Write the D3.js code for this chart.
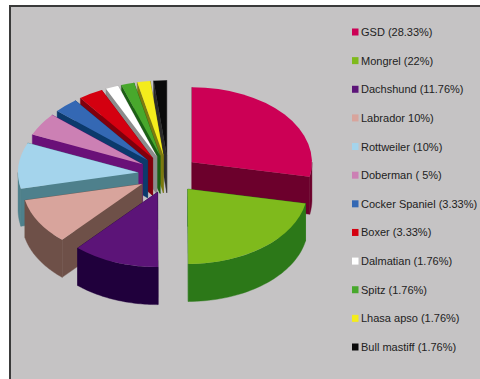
<!DOCTYPE html>
<html>
<head>
<meta charset="utf-8">
<script src="https://cdn.jsdelivr.net/npm/d3@7"></script>
<style>
  html, body { margin: 0; padding: 0; background: #fff; }
  svg { display: block; }
  text { font-family: "Liberation Sans", Arial, sans-serif; }
</style>
</head>
<body>
<svg id="chart" width="480" height="379"></svg>
<script>
// Dog breed shares
const breeds = ["GSD", "Mongrel", "Dachshund", "Labrador", "Rottweiler", "Doberman",
  "Cocker Spaniel", "Boxer", "Dalmatian", "Spitz", "Lhasa apso", "Bull mastiff"];
const shares = [28.33, 22, 11.76, 10, 10, 5, 3.33, 3.33, 1.76, 1.76, 1.76, 1.76];
const legendLabels = ["GSD (28.33%)", "Mongrel (22%)", "Dachshund (11.76%)", "Labrador 10%)",
  "Rottweiler (10%)", "Doberman ( 5%)", "Cocker Spaniel (3.33%)", "Boxer (3.33%)",
  "Dalmatian (1.76%)", "Spitz (1.76%)", "Lhasa apso (1.76%)", "Bull mastiff (1.76%)"];
const topColors = ["#cc0055", "#7fba1c", "#5c1478", "#d8a49c", "#a4d4ec", "#cc80b4",
  "#3468b4", "#d40010", "#ffffff", "#48a82c", "#f4ec1c", "#0a0a0a"];
const wallColors = ["#6c002c", "#2c7818", "#20003c", "#6e5048", "#4e808c", "#6a1078",
  "#0c3a6c", "#80000c", "#8c8c8c", "#1c6014", "#7c7a10", "#2a2a2a"];

const width = 480, height = 379;
const rx = 120, ry = 75, depth = 37.5, explode = 0.254;
const cx = 168.4, cy = 174.3;
const tilt = ry / rx;

const svg = d3.select("#chart");

// Panel and its frame
svg.append("rect").attr("x", 10).attr("y", 6).attr("width", 470).attr("height", 373)
  .attr("fill", "#c5c3c4");
svg.append("path").attr("d", "M10,379V6H480").attr("fill", "none")
  .attr("stroke", "#3a3a3a").attr("stroke-width", 2);

// Angles start at twelve o'clock and run clockwise, in breed order
const arcs = d3.pie().sort(null).value(d => d.share)
  (breeds.map((b, i) => ({ breed: b, share: shares[i], top: topColors[i], wall: wallColors[i] })));

const px = (r, a) => r * Math.sin(a);
const py = (r, a) => -r * tilt * Math.cos(a);

arcs.forEach(d => {
  d.mid = (d.startAngle + d.endAngle) / 2;
  d.ax = cx + px(rx * explode, d.mid);
  d.ay = cy + py(rx * explode, d.mid);
});

// Paint far wedges first so nearer ones overlap them
const painted = arcs.slice().sort((a, b) => a.ay - b.ay);
const topArc = d3.arc().innerRadius(0).outerRadius(rx);
const line = d3.line();

painted.forEach(d => {
  const g = svg.append("g").attr("class", "wedge");
  const { ax, ay, startAngle: s, endAngle: e } = d;
  const wall = d.data.wall;

  // Flat cut faces
  [e, s].forEach(a => {
    const tx = ax + px(rx, a), ty = ay + py(rx, a);
    g.append("path")
      .attr("d", line([[ax, ay], [tx, ty], [tx, ty + depth], [ax, ay + depth]]) + "Z")
      .attr("fill", wall).attr("stroke", wall).attr("stroke-width", 0.4);
  });

  // Curved outer wall, only where it faces the viewer
  const a0 = Math.max(s, Math.PI / 2), a1 = Math.min(e, Math.PI * 1.5);
  if (a1 > a0) {
    const steps = d3.range(0, 41).map(k => a0 + (a1 - a0) * k / 40);
    const upper = steps.map(a => [ax + px(rx, a), ay + py(rx, a)]);
    const lower = steps.slice().reverse().map(a => [ax + px(rx, a), ay + py(rx, a) + depth]);
    g.append("path").attr("d", line(upper.concat(lower)) + "Z")
      .attr("fill", wall).attr("stroke", wall).attr("stroke-width", 0.4);
  }

  // Top face: a circular wedge squashed into the ellipse
  g.append("path")
    .attr("transform", `translate(${ax},${ay}) scale(1,${tilt})`)
    .attr("d", topArc(d))
    .attr("fill", d.data.top);
});

// Legend
const legendY = d3.scalePoint().domain(breeds).range([32, 347]);
const legend = svg.append("g").attr("class", "legend");
const rows = legend.selectAll("g").data(breeds).join("g")
  .attr("transform", d => `translate(0,${legendY(d)})`);
rows.append("rect").attr("x", 352).attr("y", -3.5).attr("width", 6.5).attr("height", 7)
  .attr("fill", (d, i) => topColors[i]);
rows.append("text").attr("x", 361).attr("y", 4)
  .attr("font-size", 11).attr("fill", "#222")
  .text((d, i) => legendLabels[i]);
</script>
</body>
</html>
